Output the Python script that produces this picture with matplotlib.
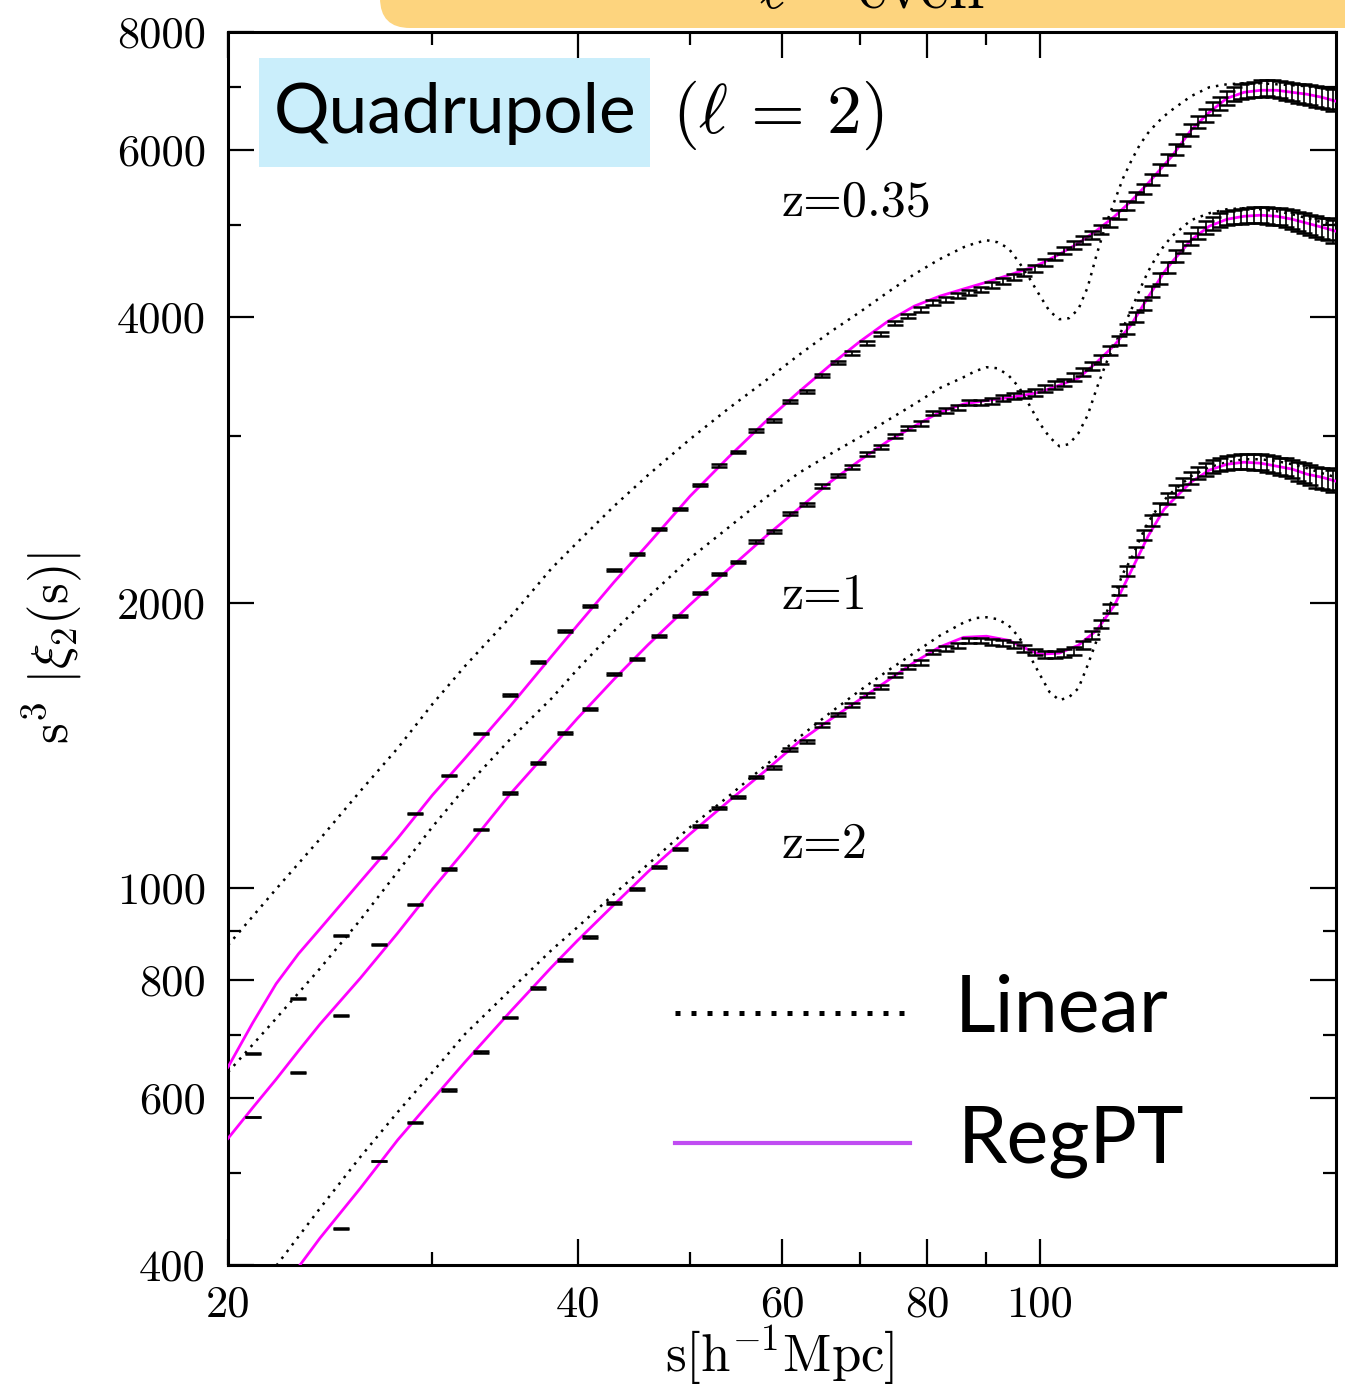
import matplotlib
matplotlib.use("Agg")
import numpy as np
import matplotlib.pyplot as plt
from matplotlib.patches import FancyBboxPatch, Rectangle
from matplotlib.ticker import FixedLocator, FixedFormatter, NullFormatter

plt.rcParams["mathtext.fontset"] = "cm"
plt.rcParams["axes.unicode_minus"] = False

# ---------------------------------------------------------------
# N-body measurements: s^3 |xi_2(s)|, bins of 2 h^-1 Mpc
# ---------------------------------------------------------------
s_bins = [21, 23, 25, 27, 29, 31, 33, 35, 37, 39, 41, 43, 45, 47, 49,
          51, 53, 55, 57, 59, 61, 63, 65, 67, 69, 71, 73, 75, 77, 79,
          81, 83, 85, 87, 89, 91, 93, 95, 97, 99, 101, 103, 105, 107, 109,
          111, 113, 115, 117, 119, 121, 123, 125, 127, 129, 131, 133, 135, 137, 139,
          141, 143, 145, 147, 149, 151, 153, 155, 157, 159, 161, 163, 165, 167, 169,
          171, 173, 175, 177, 179]

nbody_z035 = [669, 765, 891, 1077, 1199, 1315, 1456, 1597, 1730, 1866, 1983, 2164, 2250, 2390, 2509,
              2660, 2792, 2882, 3040, 3115, 3262, 3342, 3475, 3586, 3666, 3756, 3839, 3943, 4010, 4079,
              4149, 4180, 4220, 4251, 4282, 4324, 4366, 4409, 4463, 4506, 4573, 4640, 4708, 4765, 4824,
              4883, 4954, 5039, 5138, 5252, 5355, 5460, 5594, 5732, 5873, 6017, 6150, 6301, 6425, 6535,
              6647, 6728, 6810, 6880, 6920, 6940, 6960, 6975, 6980, 6970, 6960, 6940, 6915, 6894, 6877,
              6860, 6843, 6827, 6810, 6778]

nbody_z1 = [573, 639, 734, 872, 961, 1047, 1153, 1259, 1354, 1456, 1544, 1681, 1743, 1843, 1935,
            2046, 2143, 2206, 2322, 2379, 2485, 2540, 2654, 2725, 2779, 2868, 2917, 2996, 3055, 3092,
            3169, 3192, 3215, 3254, 3254, 3262, 3286, 3302, 3318, 3334, 3367, 3392, 3416, 3458, 3500,
            3552, 3613, 3693, 3783, 3886, 4001, 4119, 4262, 4398, 4517, 4640, 4742, 4835, 4906, 4978,
            5027, 5064, 5088, 5101, 5113, 5126, 5126, 5126, 5126, 5113, 5113, 5088, 5076, 5052, 5027,
            5003, 4991, 4966, 4954, 4930]

# z = 2 starts at s = 25 (smaller bins fall below the plotted range)
nbody_z2 = [437, 515, 565, 612, 671, 730, 784, 839, 887, 964, 997, 1052, 1099,
            1162, 1214, 1247, 1309, 1341, 1401, 1428, 1485, 1525, 1559, 1597, 1628, 1677, 1710, 1730,
            1773, 1790, 1803, 1825, 1825, 1817, 1812, 1803, 1790, 1773, 1764, 1764, 1769, 1777, 1803,
            1848, 1898, 1973, 2061, 2159, 2261, 2356, 2443, 2515, 2577, 2622, 2667, 2706, 2739, 2766,
            2786, 2799, 2806, 2813, 2820, 2820, 2813, 2813, 2806, 2799, 2786, 2779, 2766, 2752, 2739,
            2726, 2712, 2706, 2699, 2686]

# relative 1-sigma error of each bin [%]
err_pct = [0.1, 0.1, 0.1, 0.1, 0.15, 0.15, 0.15, 0.2, 0.2, 0.2, 0.2, 0.25, 0.25, 0.25, 0.3,
           0.3, 0.3, 0.3, 0.35, 0.35, 0.35, 0.4, 0.4, 0.4, 0.45, 0.45, 0.5, 0.5, 0.5, 0.55,
           0.55, 0.6, 0.6, 0.65, 0.65, 0.7, 0.7, 0.75, 0.8, 0.8, 0.85, 0.9, 0.9, 0.95, 1.0,
           1.0, 1.05, 1.1, 1.1, 1.15, 1.2, 1.25, 1.3, 1.3, 1.35, 1.4, 1.45, 1.5, 1.5, 1.55,
           1.6, 1.65, 1.7, 1.75, 1.8, 1.85, 1.9, 1.95, 2.0, 2.05, 2.1, 2.2, 2.25, 2.3, 2.4,
           2.45, 2.5, 2.6, 2.65, 2.7]

# ---------------------------------------------------------------
# Linear theory predictions
# ---------------------------------------------------------------
s_lin = [20, 22, 24, 26, 28, 30, 32, 35, 38, 40, 43, 46,
         50, 54, 58, 62, 66, 70, 74, 78, 82, 86,
         88, 90, 92, 94, 96, 98, 100, 102, 104, 106, 108, 110, 112, 114, 116, 118,
         120, 122, 124, 126, 128, 130,
         135, 140, 145, 150, 155, 160, 165, 170, 175, 180]

lin_z035 = [870, 997, 1126, 1265, 1404, 1563, 1714, 1930, 2174, 2316, 2528, 2726,
            2975, 3207, 3425, 3648, 3858, 4050, 4251, 4441, 4606, 4742,
            4789, 4824, 4800, 4731, 4573, 4398, 4220, 4059, 3981, 3991, 4079, 4303, 4662, 5003, 5303, 5608,
            5858, 6085, 6260, 6400, 6520, 6620,
            6844, 6995, 7046, 7063, 7063, 7046, 7029, 7012, 6978, 6961]

lin_z1 = [639, 728, 822, 925, 1040, 1160, 1275, 1435, 1585, 1701, 1866, 2026,
          2228, 2402, 2577, 2739, 2868, 2989, 3115, 3239, 3367, 3458,
          3509, 3543, 3534, 3475, 3375, 3231, 3092, 2989, 2924, 2939, 3018, 3153, 3367, 3569, 3740, 3900,
          4080, 4280, 4470, 4630, 4760, 4870,
          5064, 5151, 5201, 5214, 5201, 5176, 5138, 5088, 5039, 5003]

lin_z2 = [346, 399, 459, 520, 580, 639, 701, 780, 860, 909, 985, 1059,
          1159, 1250, 1345, 1440, 1530, 1615, 1695, 1770, 1845, 1905,
          1926, 1930, 1921, 1893, 1839, 1760, 1681, 1609, 1578, 1589, 1624, 1718, 1825, 1944, 2036, 2148,
          2228, 2333, 2431, 2503, 2565, 2615,
          2719, 2779, 2813, 2833, 2833, 2820, 2799, 2772, 2739, 2712]

# ---------------------------------------------------------------
# RegPT predictions
# ---------------------------------------------------------------
s_reg = [20, 21, 22, 23, 24, 26, 28, 30, 32, 35, 38, 40, 43, 46,
         50, 54, 58, 62, 66, 70, 74, 78, 82, 86,
         90, 94, 98, 100, 104, 108, 112, 116, 120, 124, 128, 130,
         135, 140, 145, 150, 155, 160, 165, 170, 175, 180]

reg_z035 = [647, 720, 792, 852, 905, 1015, 1128, 1253, 1370, 1555, 1756, 1893, 2102, 2305,
            2590, 2850, 3100, 3335, 3560, 3770, 3960, 4110, 4210, 4285,
            4356, 4430, 4506, 4550, 4662, 4790, 4940, 5110, 5310, 5540, 5790, 5915,
            6301, 6583, 6810, 6910, 6944, 6944, 6910, 6877, 6827, 6761]

reg_z1 = [544, 586, 628, 673, 718, 803, 896, 997, 1096, 1256, 1407, 1510, 1660, 1805,
          1990, 2170, 2345, 2512, 2680, 2825, 2960, 3070, 3175, 3240,
          3268, 3290, 3318, 3334, 3392, 3450, 3586, 3738, 3933, 4200, 4463, 4573,
          4824, 4991, 5076, 5113, 5126, 5113, 5076, 5027, 4979, 4930]

reg_z2 = [319, 344, 371, 398, 427, 482, 542, 598, 655, 740, 825, 880, 960, 1040,
          1140, 1235, 1328, 1425, 1505, 1580, 1655, 1730, 1795, 1838,
          1843, 1825, 1782, 1764, 1769, 1803, 1870, 1987, 2164, 2350, 2509, 2559,
          2680, 2759, 2799, 2813, 2806, 2786, 2766, 2732, 2712, 2686]

# axis ticks
x_major = [20, 40, 60, 80, 100]
x_major_labels = ["20", "40", "60", "80", "100"]
x_minor = [30, 50, 70, 90]
y_major = [400, 600, 800, 1000, 2000, 4000, 6000, 8000]
y_major_labels = ["400", "600", "800", "1000", "2000", "4000", "6000", "8000"]
y_minor = [500, 700, 900, 3000, 5000, 7000]

redshift_labels = ["z=0.35", "z=1", "z=2"]

MAGENTA = "#ff00ff"
LEGEND_VIOLET = "#c04cf2"

# ---------------------------------------------------------------
fig = plt.figure(figsize=(13.45, 13.89), dpi=100)

# header tab above the panel
tab = FancyBboxPatch((3.80, 13.61), 10.0, 1.0,
                     boxstyle="round,pad=0,rounding_size=0.3",
                     transform=fig.dpi_scale_trans,
                     facecolor="#fdd47e", edgecolor="none", zorder=0)
fig.patches.append(tab)
fig.text(9.84, 13.81, r"$\ell=\mathrm{even}$", transform=fig.dpi_scale_trans,
         ha="right", va="baseline", fontsize=46, color="black")

ax = fig.add_axes([0.16952, 0.08927, 0.82379, 0.88769])
ax.set_xscale("log")
ax.set_yscale("log")
ax.set_xlim(20, 180)
ax.set_ylim(400, 8000)

for curve in (lin_z035, lin_z1, lin_z2):
    ax.plot(s_lin, curve, color="black", lw=1.8, linestyle=(0, (1, 2.4)),
            dash_capstyle="butt", zorder=2)

for curve in (reg_z035, reg_z1, reg_z2):
    ax.plot(s_reg, curve, color=MAGENTA, lw=2.0, zorder=3)

for vals, ss, ee in ((nbody_z035, s_bins, err_pct),
                     (nbody_z1, s_bins, err_pct),
                     (nbody_z2, s_bins[2:], err_pct[2:])):
    v = np.asarray(vals, dtype=float)
    e = v * np.asarray(ee, dtype=float) / 100.0
    ax.errorbar(ss, v, yerr=e, fmt="none", ecolor="black", elinewidth=1.2,
                capsize=6, capthick=1.8, zorder=4)

# ticks
ax.xaxis.set_major_locator(FixedLocator(x_major))
ax.xaxis.set_major_formatter(FixedFormatter(x_major_labels))
ax.xaxis.set_minor_locator(FixedLocator(x_minor))
ax.xaxis.set_minor_formatter(NullFormatter())
ax.yaxis.set_major_locator(FixedLocator(y_major))
ax.yaxis.set_major_formatter(FixedFormatter(y_major_labels))
ax.yaxis.set_minor_locator(FixedLocator(y_minor))
ax.yaxis.set_minor_formatter(NullFormatter())
ax.tick_params(which="both", direction="in", top=True, right=True,
               width=1.6, colors="black", labelsize=32,
               labelfontfamily="cmr10")
ax.tick_params(which="major", length=18.5)
ax.tick_params(which="minor", length=9.5)
ax.tick_params(axis="x", pad=15)
ax.tick_params(axis="y", pad=16)
for sp in ax.spines.values():
    sp.set_linewidth(2.2)

# redshift annotations
ax.text(60.0, 5278, redshift_labels[0], family="cmr10", fontsize=36,
        ha="left", va="center")
ax.text(60.0, 2030, redshift_labels[1], family="cmr10", fontsize=36,
        ha="left", va="center")
ax.text(60.0, 1109, redshift_labels[2], family="cmr10", fontsize=36,
        ha="left", va="center")

# panel title
ax.add_patch(Rectangle((0.028, 0.8905), 0.353, 0.0885, transform=ax.transAxes,
                       facecolor="#caeefb", edgecolor="none", zorder=5))
ax.text(0.2045, 0.918, "Quadrupole", family="Lato", fontsize=50,
        ha="center", va="baseline", transform=ax.transAxes, zorder=6)
ax.text(0.4007, 0.918, r"$(\ell\,=\,2)$", fontsize=50,
        ha="left", va="baseline", transform=ax.transAxes, zorder=6)

# legend
ax.plot([0.4034, 0.611], [0.2044, 0.2044], transform=ax.transAxes,
        color="black", lw=3.6, linestyle=(0, (1, 2.2)), dash_capstyle="butt",
        zorder=6)
ax.plot([0.4034, 0.6155], [0.0989, 0.0989], transform=ax.transAxes,
        color=LEGEND_VIOLET, lw=3.0, zorder=6)
ax.text(0.656, 0.189, "Linear", family="Lato", fontsize=57,
        ha="left", va="baseline", transform=ax.transAxes, zorder=6)
ax.text(0.659, 0.0835, "RegPT", family="Lato", fontsize=57,
        ha="left", va="baseline", transform=ax.transAxes, zorder=6)

# axis titles
fig.text(780 / 1345, 1 - 1355 / 1389, r"$\mathrm{s[h^{-1}Mpc]}$",
         ha="center", va="center", fontsize=38)
fig.text(52 / 1345, 1 - 648 / 1389, r"$\mathrm{s}^3\ |\xi_2(\mathrm{s})|$",
         rotation=90, ha="center", va="center", fontsize=38)

fig.savefig("out.png", dpi=100)
